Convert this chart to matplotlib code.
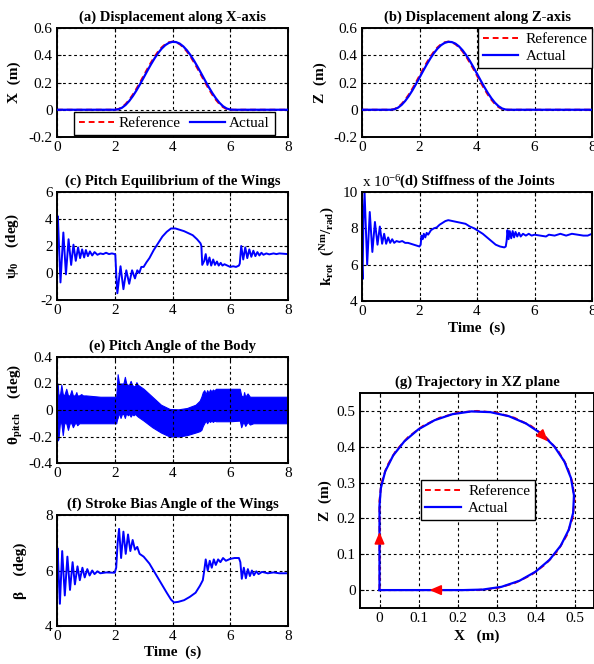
import numpy as np
import matplotlib
matplotlib.use("Agg")
import matplotlib.pyplot as plt
from matplotlib.ticker import FuncFormatter

plt.rcParams.update({
    "font.family": ["Liberation Serif", "DejaVu Serif"],
    "mathtext.fontset": "custom",
    "mathtext.rm": "Liberation Serif",
    "mathtext.bf": "Liberation Serif:bold",
    "mathtext.it": "Liberation Serif:italic",
    "mathtext.default": "bf",
    "axes.unicode_minus": False,
})

# ---------------- data ----------------
# time grid for displacement (s)
t_grid = np.arange(0, 8.0001, 0.125)
# bell-shaped manoeuvre profile (33 samples, 0.125 s apart)
bell_ref = [0, .0048, .0190, .0421, .0732, .1111, .1543, .2012, .25, .2988, .3457,
            .3889, .4268, .4579, .4810, .4952, .5, .4952, .4810, .4579, .4268,
            .3889, .3457, .2988, .25, .2012, .1543, .1111, .0732, .0421, .0190,
            .0048, 0]
bell_act = [0, .0034, .0147, .0352, .0639, .0997, .1413, .1871, .2354, .2842, .3316,
            .3759, .4154, .4486, .4741, .4909, .4986, .4966, .4853, .4648, .4361,
            .4003, .3587, .3129, .2646, .2158, .1684, .1241, .0846, .0514, .0259,
            .0091, .0014]
x_ref = [0.0] * 16 + bell_ref + [0.0] * 16
x_act = [0.0] * 16 + bell_act + [0.0] * 16
z_ref = [0.0] * 8 + bell_ref + [0.0] * 24
z_act = [0.0] * 8 + bell_act + [0.0] * 24

# (c) pitch equilibrium of the wings psi0 (deg)
t_psi = [0, 0.01, 0.03, 0.12, 0.22, 0.31, 0.40, 0.49, 0.57, 0.65, 0.73, 0.80, 0.87,
         0.94, 1.0, 1.07, 1.14, 1.22, 1.3, 1.4, 1.5, 1.6, 1.7, 1.8, 1.9, 2.0,
         2.02, 2.05, 2.09, 2.2, 2.3, 2.4, 2.5, 2.6, 2.7, 2.78, 2.85, 2.92, 3.0,
         3.1, 3.2, 3.35, 3.5, 3.65, 3.8, 3.95, 4.1, 4.25, 4.4, 4.55, 4.7, 4.85,
         4.97, 5.0, 5.03, 5.1, 5.15, 5.21, 5.28, 5.34, 5.41, 5.47, 5.54, 5.6,
         5.67, 5.73, 5.8, 5.9, 6.0, 6.1, 6.2, 6.3, 6.33, 6.38, 6.45, 6.52, 6.59,
         6.66, 6.73, 6.8, 6.87, 6.94, 7.01, 7.08, 7.15, 7.25, 7.35, 7.5, 7.6,
         7.7, 8.0]
psi0 = [1.2, 2.5, 4.2, -0.7, 3.0, -0.1, 2.5, 0.6, 2.1, 0.9, 1.9, 1.1, 1.75,
        1.15, 1.7, 1.25, 1.6, 1.3, 1.55, 1.35, 1.45, 1.4, 1.5, 1.4, 1.45, 1.4,
        1.35, 0.0, -1.5, 0.5, -1.2, 0.2, -0.8, 0.2, -0.4, 0.2, 0.0, 0.45, 0.45,
        0.8, 1.1, 1.7, 2.2, 2.7, 3.05, 3.3, 3.3, 3.2, 3.1, 2.95, 2.8, 2.5,
        2.2, 2.0, 0.6, 0.9, 1.4, 0.6, 1.15, 0.55, 1.0, 0.6, 0.85, 0.55,
        0.75, 0.55, 0.65, 0.55, 0.45, 0.5, 0.45, 0.55, 0.7, 2.0, 1.0, 1.9, 1.1,
        1.75, 1.2, 1.65, 1.25, 1.55, 1.3, 1.5, 1.35, 1.45, 1.38, 1.45, 1.4,
        1.45, 1.4]

# (d) stiffness of the joints k_rot (x 1e-6 Nm/rad)
t_k = [0, 0.02, 0.05, 0.09, 0.18, 0.27, 0.36, 0.45, 0.54, 0.62, 0.70, 0.77, 0.84,
       0.91, 0.98, 1.05, 1.12, 1.2, 1.3, 1.4, 1.5, 1.6, 1.7, 1.8, 1.9, 2.0, 2.04,
       2.07, 2.11, 2.15, 2.2, 2.25, 2.3, 2.4, 2.5, 2.6, 2.7, 2.8, 2.9, 3.0, 3.15,
       3.3, 3.45, 3.6, 3.75, 3.9, 4.05, 4.2, 4.35, 4.5, 4.65, 4.8, 4.95, 5.0,
       5.03, 5.06, 5.1, 5.14, 5.19, 5.24, 5.29, 5.34, 5.4, 5.46, 5.52, 5.6, 5.7,
       5.8, 5.9, 6.0, 6.2, 6.4, 6.5, 6.7, 6.9, 7.1, 7.3, 7.5, 7.7, 7.85, 8.0]
k_rot = [6.0, 5.2, 8.5, 9.95, 6.0, 8.9, 6.7, 8.35, 7.1, 8.1, 7.15, 7.7, 7.15,
         7.5, 7.2, 7.4, 7.2, 7.3, 7.25, 7.3, 7.2, 7.2, 7.15, 7.1, 7.05, 7.0, 7.1,
         7.6, 7.4, 7.7, 7.5, 7.75, 7.65, 7.9, 8.0, 8.05, 8.2, 8.3, 8.4, 8.45, 8.4,
         8.35, 8.3, 8.25, 8.1, 8.0, 7.85, 7.7, 7.5, 7.3, 7.1, 7.0, 6.95, 7.0,
         7.3, 7.9, 7.4, 7.85, 7.45, 7.85, 7.5, 7.8, 7.55, 7.75, 7.55, 7.7, 7.6,
         7.7, 7.6, 7.65, 7.6, 7.55, 7.65, 7.6, 7.7, 7.6, 7.7, 7.65, 7.6, 7.6, 7.7]

# (e) pitch angle of the body: envelope of the fast oscillation (deg)
t_th = [0, 0.02, 0.05, 0.1, 0.15, 0.2, 0.25, 0.32, 0.38, 0.44, 0.5, 0.55, 0.62,
        0.67, 0.7, 0.77, 0.84, 0.9, 1.0, 1.5, 2.0, 2.05, 2.08, 2.1, 2.15, 2.2,
        2.25, 2.3, 2.35, 2.4, 2.45, 2.5, 2.55, 2.6, 2.65, 2.7, 2.75, 2.8, 3.0,
        3.3, 3.6, 3.9, 4.2, 4.5, 4.8, 4.94, 5.0, 5.05, 5.1, 5.15, 5.2, 5.25,
        5.3, 5.35, 5.4, 5.45, 5.5, 6.0, 6.33, 6.38, 6.45, 6.48, 6.52, 6.6, 6.68,
        6.8, 7.0, 8.0]
th_up = [0.2, 0.2, 0.12, 0.11, 0.19, 0.12, 0.11, 0.16, 0.11, 0.11, 0.15, 0.11,
         0.11, 0.135, 0.11, 0.11, 0.12, 0.11, 0.11, 0.1, 0.1, 0.1, 0.2, 0.27,
         0.2, 0.2, 0.2, 0.2, 0.25, 0.2, 0.19, 0.19, 0.22, 0.19, 0.18, 0.18, 0.21,
         0.19, 0.16, 0.1, 0.04, 0.008, 0.005, 0.015, 0.04, 0.07, 0.1, 0.135,
         0.15, 0.12, 0.15, 0.13, 0.155, 0.14, 0.155, 0.145, 0.16, 0.16, 0.16,
         0.11, 0.1, 0.135, 0.1, 0.125, 0.1, 0.1, 0.1, 0.1]
th_lo = [-0.1, -0.23, -0.22, -0.1, -0.1, -0.19, -0.1, -0.1, -0.15, -0.1, -0.1,
         -0.13, -0.1, -0.1, -0.115, -0.1, -0.1, -0.1, -0.1, -0.1, -0.1, -0.1,
         -0.07, -0.06, -0.02, -0.06, -0.03, -0.03, -0.06, -0.02, -0.04, -0.03,
         -0.05, -0.03, -0.04, -0.03, -0.04, -0.05, -0.08, -0.13, -0.17, -0.2,
         -0.2, -0.19, -0.17, -0.16, -0.15, -0.12, -0.1, -0.08, -0.1, -0.08,
         -0.09, -0.08, -0.09, -0.08, -0.085, -0.085, -0.08, -0.13, -0.09, -0.1,
         -0.12, -0.09, -0.11, -0.1, -0.1, -0.1]

# (f) stroke bias angle of the wings beta (deg)
t_beta = [0, 0.02, 0.1, 0.18, 0.27, 0.36, 0.45, 0.54, 0.62, 0.71, 0.79, 0.88,
          0.96, 1.05, 1.13, 1.22, 1.3, 1.4, 1.5, 1.7, 2.0, 2.05, 2.1, 2.15, 2.22,
          2.3, 2.38, 2.46, 2.54, 2.62, 2.7, 2.78, 2.86, 3.0, 3.2, 3.4, 3.6, 3.8,
          3.95, 4.05, 4.2, 4.4, 4.6, 4.8, 4.95, 5.05, 5.1, 5.15, 5.22, 5.29,
          5.36, 5.43, 5.5, 5.58, 5.66, 5.75, 5.85, 6.0, 6.15, 6.3, 6.35, 6.4,
          6.47, 6.54, 6.61, 6.68, 6.75, 6.82, 6.9, 6.98, 7.1, 7.3, 7.5, 7.7, 8.0]
beta = [5.9, 6.8, 4.8, 6.7, 5.1, 6.5, 5.3, 6.3, 5.5, 6.15, 5.65, 6.1, 5.75,
        6.05, 5.82, 6.0, 5.87, 5.97, 5.9, 5.93, 5.92, 6.1, 7.0, 7.5, 6.45, 7.4,
        6.6, 7.3, 6.7, 7.1, 6.75, 6.85, 6.6, 6.5, 6.25, 5.9, 5.55, 5.2, 4.95,
        4.85, 4.87, 4.93, 5.05, 5.2, 5.45, 5.65, 6.0, 6.4, 6.0, 6.35, 6.1, 6.4,
        6.2, 6.4, 6.3, 6.45, 6.35, 6.42, 6.45, 6.45, 6.3, 5.7, 6.1, 5.72, 6.05,
        5.8, 6.0, 5.83, 5.97, 5.87, 5.95, 5.9, 5.93, 5.9, 5.9]

# ---------------- figure ----------------
W, H = 594, 664
fig = plt.figure(figsize=(W / 100, H / 100), dpi=100)

def add_ax(l, t, r, b):
    return fig.add_axes([l / W, 1 - b / H, (r - l) / W, (b - t) / H])

BLUE = "#0000FF"
RED = "#FF0000"
TICK_FS = 11
TITLE_FS = 10.5
LABEL_FS = 11
fmt = FuncFormatter(lambda v, p: ("%g" % round(v, 6)))

def style(ax, title, xlim, ylim, xticks, yticks):
    ax.set_xlim(*xlim)
    ax.set_ylim(*ylim)
    ax.set_xticks(xticks)
    ax.set_yticks(yticks)
    ax.xaxis.set_major_formatter(fmt)
    ax.yaxis.set_major_formatter(fmt)
    ax.grid(True, color="black", linestyle=(0, (2.5, 2.5)), linewidth=0.8)
    ax.tick_params(direction="in", top=True, right=True, length=3, width=0.8,
                   labelsize=TICK_FS, pad=3)
    for s in ax.spines.values():
        s.set_linewidth(1.4)
        s.set_color("black")
    ax.set_title(title, fontsize=TITLE_FS, fontweight="bold", pad=5)

def legend(ax, **kw):
    lg = ax.legend(fontsize=11, frameon=True, fancybox=False, framealpha=1,
                   edgecolor="black", handlelength=2.3, borderpad=0.3,
                   labelspacing=0.2, borderaxespad=0, **kw)
    lg.get_frame().set_linewidth(1.0)
    return lg

# (a)
ax = add_ax(57, 28, 288, 137)
ax.plot(t_grid, x_act, color=BLUE, lw=1.6, label="Actual", zorder=3)
ax.plot(t_grid, x_ref, color=RED, lw=1.4, ls=(0, (3, 2)), label="Reference", zorder=2)
style(ax, "(a) Displacement along X-axis", (0, 8), (-0.2, 0.6), [0, 2, 4, 6, 8],
      [-0.2, 0, 0.2, 0.4, 0.6])
ax.set_ylabel("X  (m)", fontsize=LABEL_FS, fontweight="bold")
ax.yaxis.set_label_coords(-0.156, 0.5)
h, l = ax.get_legend_handles_labels()
legend(ax, handles=h[::-1], labels=l[::-1], ncol=2, loc="lower left",
       bbox_to_anchor=(0.074, 0.02), columnspacing=0.6, handletextpad=0.3)

# (b)
ax = add_ax(362, 28, 592, 137)
ax.plot(t_grid, z_act, color=BLUE, lw=1.6, label="Actual", zorder=3)
ax.plot(t_grid, z_ref, color=RED, lw=1.4, ls=(0, (3, 2)), label="Reference", zorder=2)
style(ax, "(b) Displacement along Z-axis", (0, 8), (-0.2, 0.6), [0, 2, 4, 6, 8],
      [-0.2, 0, 0.2, 0.4, 0.6])
ax.set_ylabel("Z  (m)", fontsize=LABEL_FS, fontweight="bold")
ax.yaxis.set_label_coords(-0.152, 0.5)
h, l = ax.get_legend_handles_labels()
legend(ax, handles=h[::-1], labels=l[::-1], loc="upper right",
       bbox_to_anchor=(1.0, 1.0), handletextpad=0.5)

# (c)
ax = add_ax(57, 192, 288, 300)
ax.plot(t_psi, psi0, color=BLUE, lw=1.4)
style(ax, "(c) Pitch Equilibrium of the Wings", (0, 8), (-2, 6), [0, 2, 4, 6, 8],
      [-2, 0, 2, 4, 6])
ax.set_ylabel("ψ$_\\mathbf{0}$    (deg)", fontsize=LABEL_FS, fontweight="bold")
ax.yaxis.set_label_coords(-0.156, 0.5)

# (d)
ax = add_ax(362, 192, 592, 301)
ax.plot(t_k, k_rot, color=BLUE, lw=1.4)
style(ax, "(d) Stiffness of the Joints", (0, 8), (4, 10), [0, 2, 4, 6, 8],
      [4, 6, 8, 10])
ax.set_ylabel(r"$\mathbf{k_{rot}}$  $\mathbf{(^{Nm}/_{rad})}$", fontsize=LABEL_FS,
              fontweight="bold")
ax.yaxis.set_label_coords(-0.11, 0.5)
ax.set_xlabel("Time  (s)", fontsize=LABEL_FS, fontweight="bold")
ax.xaxis.set_label_coords(0.5, -0.19)
ax.text(0.0, 1.015, r"x 10$^{\mathrm{-6}}$", transform=ax.transAxes, fontsize=11,
        ha="left", va="bottom")

# (e)
ax = add_ax(57, 357, 288, 463)
ax.fill_between(t_th, th_lo, th_up, color=BLUE, lw=0.8, edgecolor=BLUE)
style(ax, "(e) Pitch Angle of the Body", (0, 8), (-0.4, 0.4), [0, 2, 4, 6, 8],
      [-0.4, -0.2, 0, 0.2, 0.4])
ax.set_ylabel("θ$_\\mathbf{pitch}$    (deg)", fontsize=LABEL_FS, fontweight="bold")
ax.yaxis.set_label_coords(-0.139, 0.55)

# (f)
ax = add_ax(57, 515, 288, 626)
ax.plot(t_beta, beta, color=BLUE, lw=1.4)
style(ax, "(f) Stroke Bias Angle of the Wings", (0, 8), (4, 8), [0, 2, 4, 6, 8],
      [4, 6, 8])
ax.set_ylabel("β    (deg)", fontsize=LABEL_FS, fontweight="bold")
ax.yaxis.set_label_coords(-0.13, 0.5)
ax.set_xlabel("Time  (s)", fontsize=LABEL_FS, fontweight="bold")
ax.xaxis.set_label_coords(0.5, -0.18)

# (g)
ax = add_ax(360, 393, 594, 608)
ax.plot(x_ref, z_ref, color=RED, lw=1.4, ls=(0, (3, 2)), label="Reference", zorder=2)
ax.plot(x_act, z_act, color=BLUE, lw=1.6, label="Actual", zorder=3)
style(ax, "(g) Trajectory in XZ plane", (-0.05, 0.55), (-0.05, 0.55),
      [0, 0.1, 0.2, 0.3, 0.4, 0.5], [0, 0.1, 0.2, 0.3, 0.4, 0.5])
ax.set_ylabel("Z  (m)", fontsize=LABEL_FS, fontweight="bold")
ax.yaxis.set_label_coords(-0.12, 0.5)
ax.set_xlabel("X   (m)", fontsize=LABEL_FS, fontweight="bold")
ax.xaxis.set_label_coords(0.5, -0.10)
legend(ax, loc="upper left", bbox_to_anchor=(0.26, 0.595), handletextpad=0.5)
arrow_tips = [((0.0, 0.162), (0.0, 0.13)), ((0.432, 0.415), (0.41, 0.44)),
              ((0.128, 0.0), (0.16, 0.0))]
for tip, tail in arrow_tips:
    ax.annotate("", xy=tip, xytext=tail,
                arrowprops=dict(arrowstyle="-|>,head_length=0.7,head_width=0.3",
                                color=RED, lw=1.2, mutation_scale=10,
                                shrinkA=0, shrinkB=0),
                zorder=5)

fig.savefig("out.png", dpi=100)
